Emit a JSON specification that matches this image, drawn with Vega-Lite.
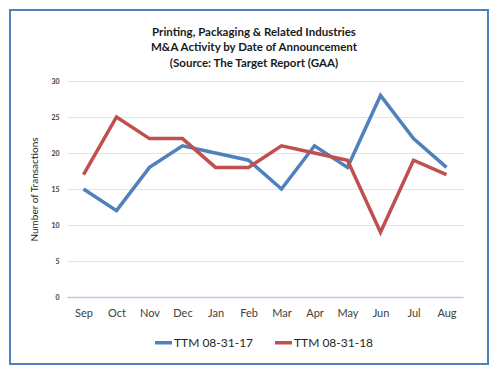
{
  "$schema": "https://vega.github.io/schema/vega-lite/v6.json",
  "autosize": "none",
  "width": 478,
  "height": 354,
  "padding": {"left": 10, "top": 10, "right": 12, "bottom": 13},
  "background": "white",
  "config": {
    "view": {"stroke": "#4f81bd", "strokeWidth": 2},
    "font": "Lato"
  },
  "title": {
    "text": ["Printing, Packaging & Related Industries", "M&A Activity by Date of Announcement", "(Source: The Target Report (GAA)"],
    "anchor": "middle",
    "frame": "group",
    "offset": -59,
    "dx": 5,
    "font": "Lato",
    "fontSize": 11.5,
    "fontWeight": "bold",
    "lineHeight": 15.5,
    "color": "#1a1a1a"
  },
  "data": {
    "values": [
      {"month": "Sep", "series": "TTM 08-31-17", "count": 15},
      {"month": "Oct", "series": "TTM 08-31-17", "count": 12},
      {"month": "Nov", "series": "TTM 08-31-17", "count": 18},
      {"month": "Dec", "series": "TTM 08-31-17", "count": 21},
      {"month": "Jan", "series": "TTM 08-31-17", "count": 20},
      {"month": "Feb", "series": "TTM 08-31-17", "count": 19},
      {"month": "Mar", "series": "TTM 08-31-17", "count": 15},
      {"month": "Apr", "series": "TTM 08-31-17", "count": 21},
      {"month": "May", "series": "TTM 08-31-17", "count": 18},
      {"month": "Jun", "series": "TTM 08-31-17", "count": 28},
      {"month": "Jul", "series": "TTM 08-31-17", "count": 22},
      {"month": "Aug", "series": "TTM 08-31-17", "count": 18},
      {"month": "Sep", "series": "TTM 08-31-18", "count": 17},
      {"month": "Oct", "series": "TTM 08-31-18", "count": 25},
      {"month": "Nov", "series": "TTM 08-31-18", "count": 22},
      {"month": "Dec", "series": "TTM 08-31-18", "count": 22},
      {"month": "Jan", "series": "TTM 08-31-18", "count": 18},
      {"month": "Feb", "series": "TTM 08-31-18", "count": 18},
      {"month": "Mar", "series": "TTM 08-31-18", "count": 21},
      {"month": "Apr", "series": "TTM 08-31-18", "count": 20},
      {"month": "May", "series": "TTM 08-31-18", "count": 19},
      {"month": "Jun", "series": "TTM 08-31-18", "count": 9},
      {"month": "Jul", "series": "TTM 08-31-18", "count": 19},
      {"month": "Aug", "series": "TTM 08-31-18", "count": 17}
    ]
  },
  "mark": {"type": "line", "strokeWidth": 3.5, "strokeJoin": "miter"},
  "encoding": {
    "x": {
      "field": "month",
      "type": "ordinal",
      "sort": ["Sep", "Oct", "Nov", "Dec", "Jan", "Feb", "Mar", "Apr", "May", "Jun", "Jul", "Aug"],
      "scale": {"range": [57, 453]},
      "axis": {
        "title": null,
        "offset": -67,
        "labelAngle": 0,
        "ticks": false,
        "domainColor": "#b9cde5",
        "domainWidth": 1.5,
        "labelPadding": 10,
        "labelFontSize": 11,
        "labelColor": "#404040",
        "grid": false
      }
    },
    "y": {
      "field": "count",
      "type": "quantitative",
      "scale": {"domain": [0, 30], "range": [287, 71], "nice": false},
      "axis": {
        "title": "Number of Transactions",
        "titleFontSize": 10,
        "titleFontWeight": "normal",
        "titleColor": "#262626",
        "titlePadding": 11,
        "offset": -57,
        "values": [0, 5, 10, 15, 20, 25, 30],
        "domain": false,
        "ticks": false,
        "labelPadding": 8,
        "labelFontSize": 7,
        "labelFontWeight": "bold",
        "labelColor": "#404040",
        "gridColor": "#e3e3e3",
        "gridWidth": 1
      }
    },
    "color": {
      "field": "series",
      "type": "nominal",
      "scale": {"domain": ["TTM 08-31-17", "TTM 08-31-18"], "range": ["#4f81bd", "#c0504d"]},
      "legend": {
        "title": null,
        "orient": "none",
        "direction": "horizontal",
        "legendX": 143,
        "legendY": 322,
        "symbolType": "stroke",
        "symbolStrokeWidth": 3.5,
        "symbolSize": 289,
        "labelFontSize": 12,
        "labelColor": "#262626",
        "labelOffset": 0,
        "columnPadding": 14
      }
    }
  }
}
